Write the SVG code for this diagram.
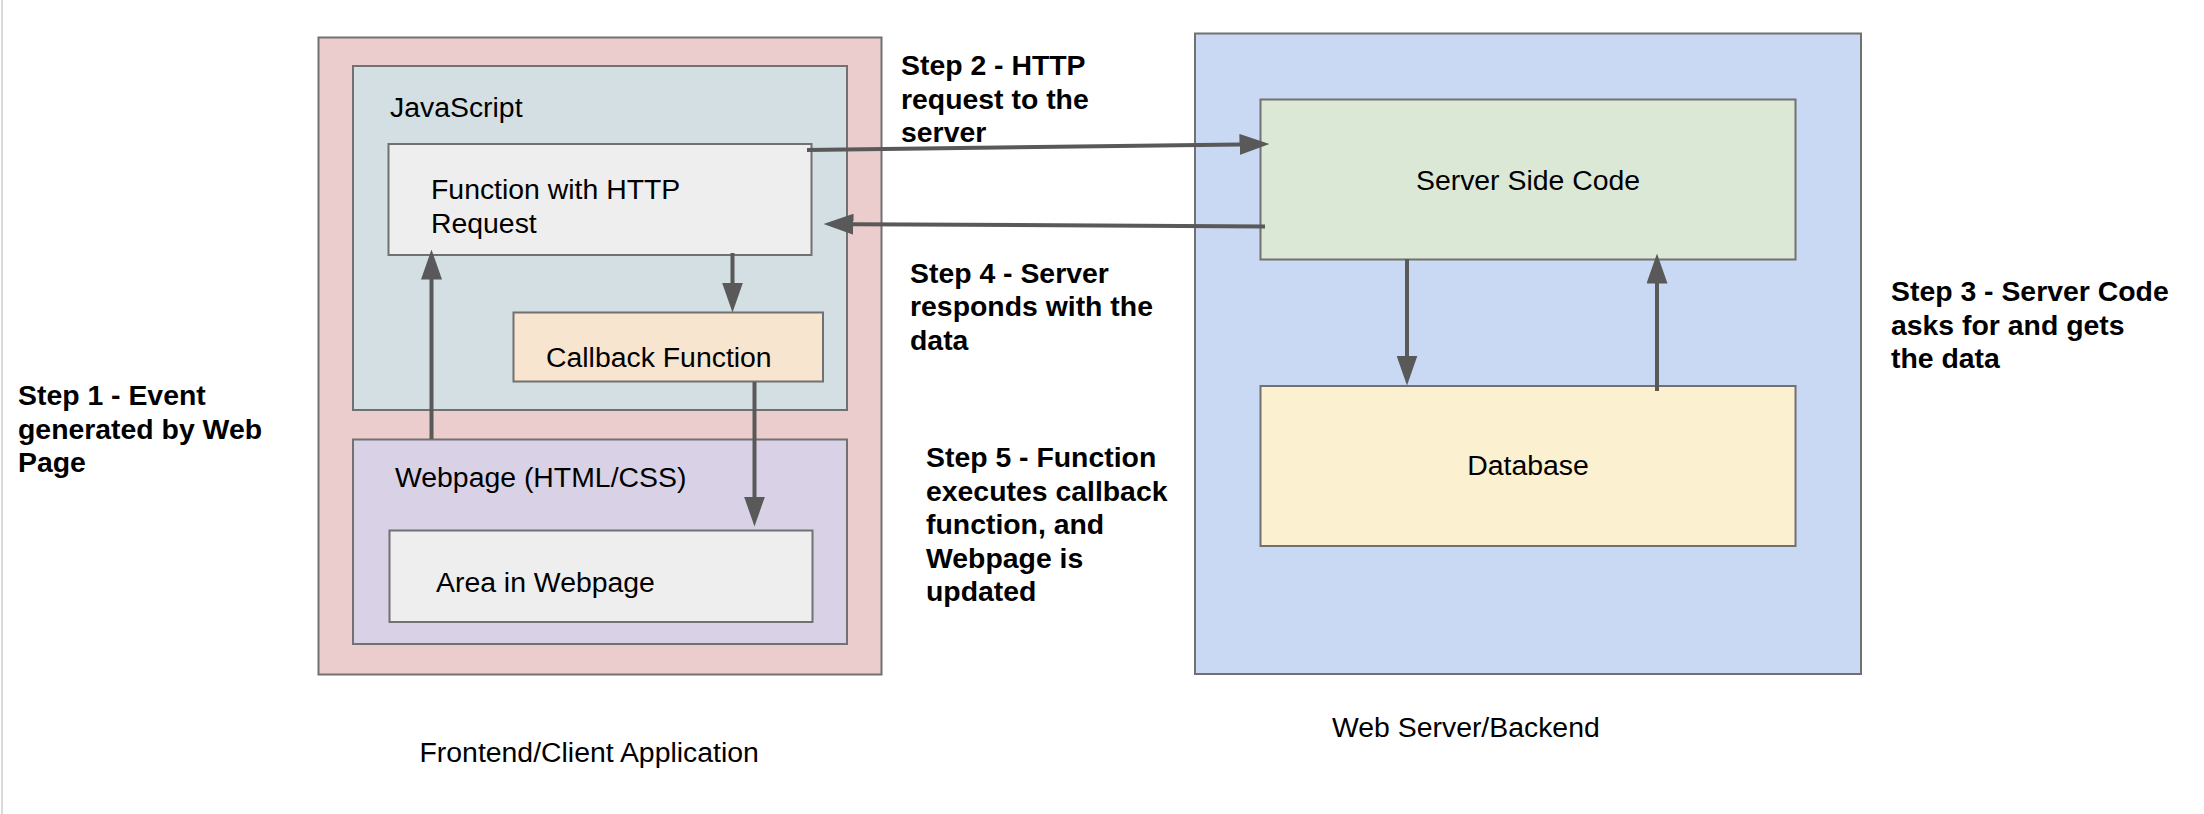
<svg xmlns="http://www.w3.org/2000/svg" width="2204" height="814" viewBox="0 0 2204 814">
<style>
.box{stroke:#717171;stroke-width:2}
.t{font-family:"Liberation Sans",Arial,sans-serif;font-size:28.4px;fill:#000}
.b{font-family:"Liberation Sans",Arial,sans-serif;font-size:28.4px;font-weight:bold;fill:#000}
.c{stroke:#595959;stroke-width:4;fill:none}
</style>
<defs>
<marker id="ah" markerUnits="userSpaceOnUse" markerWidth="30" markerHeight="21" viewBox="0 0 30 21" refX="0.5" refY="10.5" orient="auto">
<path d="M0,0 L30,10.5 L0,21 z" fill="#595959"/>
</marker>
</defs>
<rect x="0" y="0" width="2204" height="814" fill="#ffffff"/>
<rect x="1" y="0" width="2" height="814" fill="#dadada"/>

<g id="frontend">
<rect class="box" x="318.5" y="37.5" width="563" height="637" fill="#eccdcd"/>
<text class="t" x="419.5" y="762">Frontend/Client Application</text>
</g>
<g id="javascript">
<rect class="box" x="353" y="66" width="494" height="344" fill="#d3dfe3"/>
<text class="t" x="390" y="117">JavaScript</text>
</g>
<g id="function">
<rect class="box" x="388.5" y="144" width="423" height="111" fill="#eeeeee"/>
<text class="t" x="431" y="199">Function with HTTP</text>
<text class="t" x="431" y="233">Request</text>
</g>
<g id="callback">
<rect class="box" x="513.5" y="312.5" width="309.5" height="69" fill="#f8e5d0"/>
<text class="t" x="546" y="367">Callback Function</text>
</g>
<g id="webpage">
<rect class="box" x="353" y="439.5" width="494" height="204.5" fill="#d9d2e6"/>
<text class="t" x="395" y="487">Webpage (HTML/CSS)</text>
</g>
<g id="area">
<rect class="box" x="389.5" y="530.5" width="423" height="91.5" fill="#eeeeee"/>
<text class="t" x="436" y="592">Area in Webpage</text>
</g>

<g id="backend">
<rect class="box" x="1195" y="33.5" width="666" height="640.5" fill="#cad9f3"/>
<text class="t" x="1332" y="737">Web Server/Backend</text>
</g>
<g id="server-code">
<rect class="box" x="1260.5" y="99.5" width="535" height="160" fill="#dce8d6"/>
<text class="t" x="1528" y="190" text-anchor="middle">Server Side Code</text>
</g>
<g id="database">
<rect class="box" x="1260.5" y="386" width="535" height="160" fill="#fbf1d0"/>
<text class="t" x="1528" y="475" text-anchor="middle">Database</text>
</g>

<g id="step1">
<text class="b" x="18" y="405">Step 1 - Event</text>
<text class="b" x="18" y="439">generated by Web</text>
<text class="b" x="18" y="472">Page</text>
</g>
<g id="step2">
<text class="b" x="901" y="75">Step 2 - HTTP</text>
<text class="b" x="901" y="109">request to the</text>
<text class="b" x="901" y="142">server</text>
</g>
<g id="step3">
<text class="b" x="1891" y="301">Step 3 - Server Code</text>
<text class="b" x="1891" y="335">asks for and gets</text>
<text class="b" x="1891" y="368">the data</text>
</g>
<g id="step4">
<text class="b" x="910" y="283">Step 4 - Server</text>
<text class="b" x="910" y="316">responds with the</text>
<text class="b" x="910" y="350">data</text>
</g>
<g id="step5">
<text class="b" x="926" y="467">Step 5 - Function</text>
<text class="b" x="926" y="501">executes callback</text>
<text class="b" x="926" y="534">function, and</text>
<text class="b" x="926" y="568">Webpage is</text>
<text class="b" x="926" y="601">updated</text>
</g>

<g id="connectors">
<line class="c" x1="807" y1="150" x2="1240" y2="144.4" marker-end="url(#ah)"/>
<line class="c" x1="1265" y1="226.5" x2="853" y2="224.2" marker-end="url(#ah)"/>
<line class="c" x1="431.5" y1="439" x2="431.5" y2="279" marker-end="url(#ah)"/>
<line class="c" x1="732.5" y1="253" x2="732.5" y2="283" marker-end="url(#ah)"/>
<line class="c" x1="754.5" y1="382" x2="754.5" y2="497" marker-end="url(#ah)"/>
<line class="c" x1="1407" y1="259" x2="1407" y2="356" marker-end="url(#ah)"/>
<line class="c" x1="1657" y1="391" x2="1657" y2="283" marker-end="url(#ah)"/>
</g>
</svg>
